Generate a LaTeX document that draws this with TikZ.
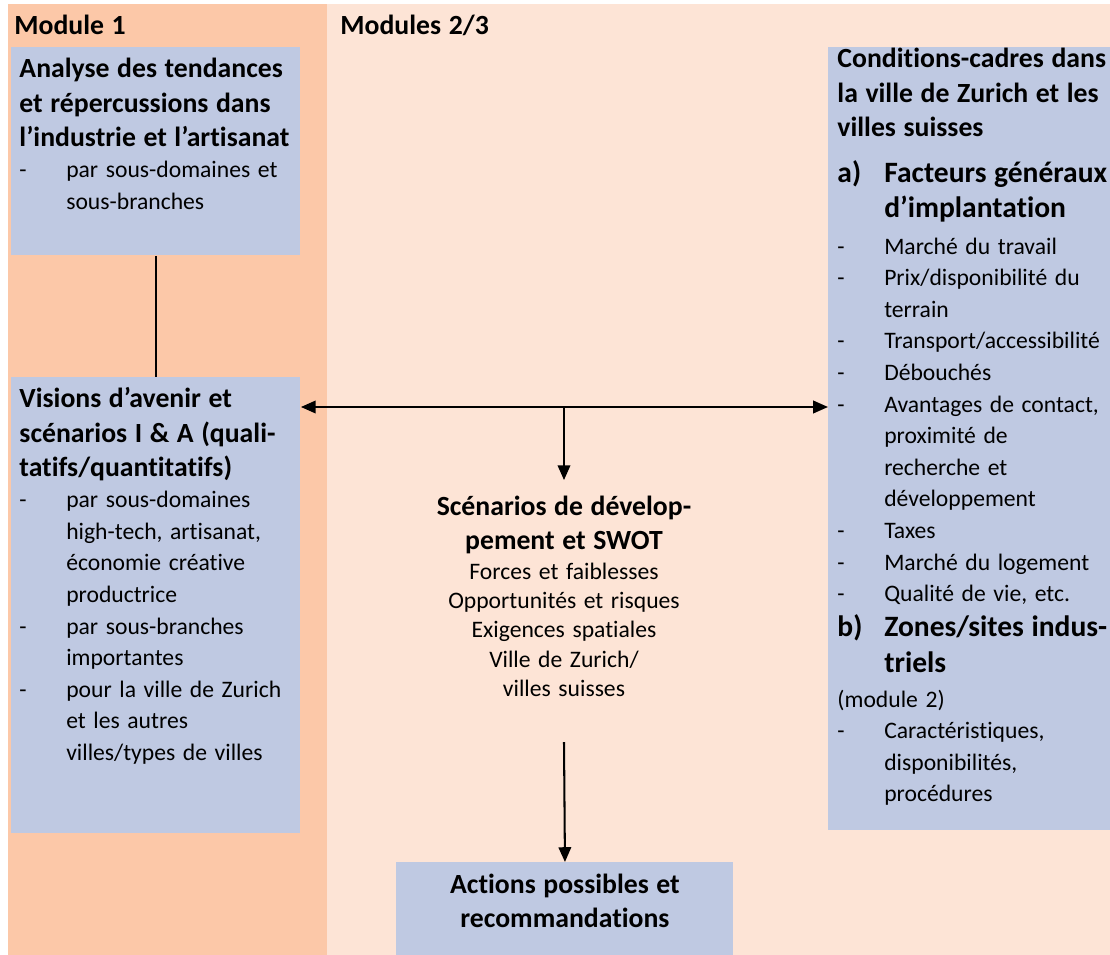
\documentclass[tikz,border=0pt]{standalone}
\usepackage{fontspec}
\setmainfont{Carlito}[Ligatures=NoCommon]
\usepackage{xcolor}
\usetikzlibrary{arrows.meta}

\definecolor{modone}{RGB}{252,200,168}
\definecolor{modtwo}{RGB}{253,228,214}
\definecolor{boxblue}{RGB}{191,201,226}

\newcommand{\pxu}{0.44pt}
\newcommand{\hd}{\fontsize{12.2}{15}\selectfont\bfseries}
\newcommand{\subhd}{\fontsize{13}{15.5}\selectfont\bfseries}
\newcommand{\bd}{\fontsize{10.4}{13.9}\selectfont}
\newcommand{\dsh}{\makebox[20.6pt][l]{-}}
\newcommand{\itind}{\hspace*{20.6pt}}

\begin{document}
\begin{tikzpicture}[x=0.44pt, y=-0.44pt,
    box/.style={fill=boxblue, anchor=north west, inner sep=0pt},
    txt/.style={anchor=base west, inner sep=0pt, text width=200pt, align=left},
    ctxt/.style={anchor=base, inner sep=0pt, text width=200pt, align=center},
    arrow/.style={line width=0.9pt, -{Triangle[length=6.5pt,width=5.5pt]}},
    twoway/.style={line width=0.9pt, {Triangle[length=6.5pt,width=5.5pt]}-{Triangle[length=6.5pt,width=5.5pt]}}]

    \useasboundingbox (0,0) rectangle (1110,955);
    % module backgrounds
    \fill[modone] (8,4) rectangle (327,955);
    \fill[modtwo] (327,4) rectangle (1110,955);

    \node[txt] (modone) at (14,35) {\hd Module 1};
    \node[txt] (modtwo) at (340,35) {\hd Modules 2/3};

    % boxes
    \node[box, minimum width=289*\pxu, minimum height=208*\pxu] (trends) at (11,47) {};
    \node[box, minimum width=289*\pxu, minimum height=456*\pxu] (visions) at (11,377) {};
    \node[box, minimum width=282*\pxu, minimum height=783*\pxu] (conds) at (828,47) {};
    \node[box, minimum width=337*\pxu, minimum height=93*\pxu] (actions) at (396,862) {};

    % box texts
    \node[txt] (trendstxt) at ([shift={(8,31)}]trends.north west)
        {{\hd Analyse des tendances\\ et répercussions dans\\ l’industrie et l’artisanat\par}
         {\bd\dsh par sous-domaines et\\ \itind sous-branches\par}};
    \node[txt] (visionstxt) at ([shift={(8,31)}]visions.north west)
        {{\hd Visions d’avenir et\\ scénarios I \& A (quali-\\ tatifs/quantitatifs)\par}
         {\bd\dsh par sous-domaines\\ \itind high-tech, artisanat,\\ \itind économie créative\\
          \itind productrice\\ \dsh par sous-branches\\ \itind importantes\\
          \dsh pour la ville de Zurich\\ \itind et les autres\\ \itind villes/types de villes\par}};
    \node[txt] (condstxt) at ([shift={(9,21)}]conds.north west)
        {{\hd Conditions-cadres dans\\ la ville de Zurich et les\\ villes suisses\par}
         \vspace{5pt}
         {\subhd\makebox[20.6pt][l]{a)}Facteurs généraux\\ \itind d’implantation\par}
         \vspace{2pt}
         {\bd\dsh Marché du travail\\ \dsh Prix/disponibilité du\\ \itind terrain\\
          \dsh Transport/accessibilité\\ \dsh Débouchés\\ \dsh Avantages de contact,\\
          \itind proximité de\\ \itind recherche et\\ \itind développement\\ \dsh Taxes\\
          \dsh Marché du logement\\ \dsh Qualité de vie, etc.\par}
         {\subhd\makebox[20.6pt][l]{b)}Zones/sites indus-\\ \itind triels\par}
         \vspace{1.5pt}
         {\bd (module 2)\\ \dsh Caractéristiques,\\ \itind disponibilités,\\ \itind procédures\par}};
    \node[ctxt] (scen) at (564,515)
        {{\fontsize{12.2}{15.4}\selectfont\bfseries Scénarios de dévelop-\\ pement et SWOT\par}
         {\fontsize{10.4}{12.9}\selectfont Forces et faiblesses\\ Opportunités et risques\\
          Exigences spatiales\\ Ville de Zurich/\\ villes suisses\par}};
    \node[ctxt] (actionstxt) at ([yshift=-31*\pxu]actions.north)
        {\hd Actions possibles et\\ recommandations\par};

    % connectors
    \coordinate (hub) at (564,407);
    \draw[line width=0.8pt] (trends.south) -- (visions.north);
    \draw[twoway] (visions.east |- hub) -- (conds.west |- hub);
    \draw[arrow] (hub) -- ([yshift=6.6pt]scen.north);
    \draw[arrow] ([yshift=-19.8pt]scen.south) -- (actions.north);
\end{tikzpicture}
\end{document}
